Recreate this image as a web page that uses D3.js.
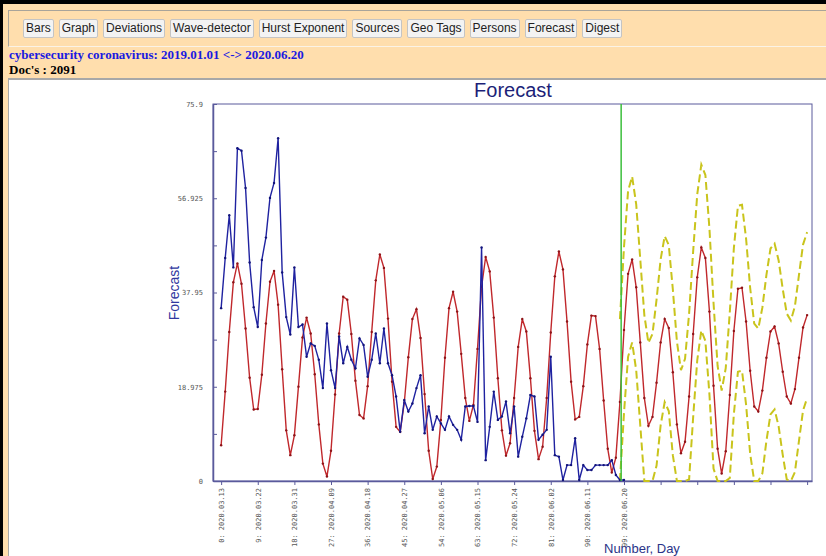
<!DOCTYPE html>
<html>
<head>
<meta charset="utf-8">
<script src="https://cdn.jsdelivr.net/npm/d3@7"></script>
<style>
    body { margin: 0; width: 826px; height: 556px; overflow: hidden; background: #FFDEAD; position: relative;
           font-family: Arial, "Liberation Sans", sans-serif; }
    .topbar { position: absolute; left: 0; top: 0; width: 826px; height: 4px; background: #000; }
    .leftbar { position: absolute; left: 0; top: 0; width: 3px; height: 556px; background: #000; }
    .menu { position: absolute; left: 8px; top: 10px; width: 830px; height: 35px;
            border-top: 1px solid #a9a49a; border-left: 1px solid #a9a49a; border-bottom: 1px solid #fbf3e6; }
    .buttons { position: absolute; left: 23px; top: 19px; display: flex; gap: 5px; }
    .buttons span { font-size: 12px; color: #222; background: #f3f3f3; border: 1px solid #c4c4c4;
                    padding: 1px 2px; line-height: 15px; border-radius: 2px; }
    .query { position: absolute; left: 9px; top: 47px; font: bold 13px "Liberation Serif", "Times New Roman", serif; color: #1a1ae0; }
    .docs { position: absolute; left: 9px; top: 62px; font: bold 13px "Liberation Serif", "Times New Roman", serif; color: #000; }
    .panel { position: absolute; left: 8px; top: 78px; width: 830px; height: 480px; background: #fff;
             border-top: 2px solid #a8a8a8; border-left: 1px solid #a8a8a8; }
    svg { position: absolute; left: 0; top: 0; }
</style>
</head>
<body>
<div class="topbar"></div>
<div class="leftbar"></div>
<div class="menu"></div>
<div class="buttons"></div>
<div class="query"></div>
<div class="docs"></div>
<div class="panel"></div>
<script>

// Data ////////////////////////////////////

const menuItems = ["Bars", "Graph", "Deviations", "Wave-detector", "Hurst Exponent", "Sources",
    "Geo Tags", "Persons", "Forecast", "Digest"];

const queryText = "cybersecurity coronavirus: 2019.01.01 <-> 2020.06.20";
const docsText = "Doc's : 2091";

// day number of the first point of each series
const actualStart = 0;
const modelStart = 0;
const bandStart = 98;
const forecastLine = 98.3;

// observed documents per day (blue)
const actual = [
    34.8, 44.9, 53.5, 43, 67, 66.5, 59, 44, 35, 31,
    44.5, 49, 57, 60, 69, 42, 33, 29.5, 43, 31,
    31.5, 25, 27.7, 27.2, 24.4, 18.7, 31.7, 22.3, 18.7, 29.1,
    23.7, 27, 24.4, 22.7, 28.7, 27.4, 21, 24.4, 29.7, 23.7,
    30.7, 23.7, 21.3, 17, 9.9, 16.3, 14, 15.6, 18.7, 21.3,
    9.6, 15, 10.3, 13, 11.6, 10.3, 13, 11.3, 10.3, 8.3,
    15, 15.1, 15.1, 11.9, 47, 4.2, 10.9, 18, 12.3, 13,
    16, 9.6, 15, 4.9, 8.9, 12.6, 17.3, 17, 8.3, 9.3,
    10.3, 25, 5.2, 4.9, 0.2, 3.2, 3.2, 8.6, 0.2, 3.2,
    2.2, 2.2, 3.2, 3.2, 3.2, 3.2, 4.2, 1.2, 0.2, 0.2
];

// fitted model and forecast (red)
const model = [
    7.2, 18, 30, 40, 43.8, 39.7, 30.7, 20.8, 14.4, 14.5,
    21.4, 31.7, 40.1, 42.3, 35.5, 22.5, 10.2, 5.2, 9.2, 19,
    28.9, 32.9, 29.7, 21.5, 11.4, 3.5, 0.9, 6.1, 17.4, 29.7,
    37.1, 36.5, 29.6, 20.2, 13.3, 12.6, 19.1, 30, 40.4, 45.6,
    42.9, 32.7, 20, 10.9, 9.9, 15.7, 24.9, 32.6, 34.6, 28.8,
    17.5, 6.1, 0.4, 2.9, 12.3, 24.8, 34.8, 38.1, 34.1, 25.6,
    16.7, 12.1, 15.3, 26.6, 39.1, 45.1, 42.2, 32.9, 20.7, 10.2,
    5.1, 7.6, 16.7, 27, 32.6, 30.1, 20.7, 10.1, 4.4, 6.9,
    16.7, 29.9, 41.2, 46.2, 42.6, 32.1, 20, 12.4, 12.9, 19.1,
    27.5, 33.3, 33.2, 26.6, 16.2, 6.5, 1.7, 4.7, 15.9, 30.4,
    41.7, 44.6, 39, 27.9, 16.7, 11.1, 12.9, 19.8, 27.9, 32.6,
    30.8, 21.9, 11.4, 5.6, 7.9, 17, 29.6, 41, 47, 44.9,
    34.1, 19.2, 6.5, 1.5, 6, 17.3, 30.2, 38.7, 38.9, 32.1,
    22.2, 15, 14, 18.2, 24.8, 30.1, 31.1, 27.7, 22, 17,
    15.6, 18.5, 24.8, 30.9, 33.4
];

// forecast bounds (yellow, dashed)
const upper = [
    32.6, 47.1, 58.4, 61.3, 55.7, 44.6, 33.4, 27.8, 29.6, 36.5,
    44.6, 49.3, 47.5, 38.6, 28.1, 22.3, 24.6, 33.7, 46.3, 57.7,
    63.7, 61.6, 50.8, 35.9, 23.2, 18.2, 22.7, 34, 46.9, 55.4,
    55.6, 48.8, 38.9, 31.7, 30.7, 34.9, 41.5, 46.8, 47.8, 44.4,
    38.7, 33.7, 32.3, 35.2, 41.5, 47.6, 50.1
];
const lower = [
    0, 13.7, 25, 27.9, 22.3, 11.2, 0, 0, 0, 3.1,
    11.2, 15.9, 14.1, 5.2, 0, 0, 0, 0.3, 12.9, 24.3,
    30.3, 28.2, 17.4, 2.5, 0, 0, 0, 0.6, 13.5, 22,
    22.2, 15.4, 5.5, 0, 0, 1.5, 8.1, 13.4, 14.4, 11,
    5.3, 0.3, 0, 1.8, 8.1, 14.2, 16.7
];

const xTicks = [0, 9, 18, 27, 36, 45, 54, 63, 72, 81, 90, 99, 108, 117, 126, 135, 144];
const xTickDates = ["2020.03.13", "2020.03.22", "2020.03.31", "2020.04.09", "2020.04.18", "2020.04.27",
    "2020.05.06", "2020.05.15", "2020.05.24", "2020.06.02", "2020.06.11", "2020.06.20"];

const yTicks = [0, 9.4875, 18.975, 28.4625, 37.95, 47.4375, 56.925, 66.4125, 75.9];
const yTickLabels = ["0", "", "18.975", "", "37.95", "", "56.925", "", "75.9"];

// Header ////////////////////////////////////

d3.select(".buttons").selectAll("span")
    .data(menuItems)
    .join("span")
    .text(d => d);

d3.select(".query").text(queryText);
d3.select(".docs").text(docsText);

// Chart ////////////////////////////////////

const svg = d3.select("body").append("svg")
    .attr("width", 826)
    .attr("height", 556);

const plot = { left: 213, right: 812, top: 104, bottom: 481 };

const x = d3.scaleLinear()
    .domain([-2, 145.2])
    .range([plot.left, plot.right]);

const y = d3.scaleLinear()
    .domain([0, 75.9])
    .range([plot.bottom, plot.top]);

const axisColor = "#5a5a9c";

// Title

svg.append("text")
    .attr("x", 513)
    .attr("y", 97)
    .attr("text-anchor", "middle")
    .attr("font-family", "Arial, 'Liberation Sans', sans-serif")
    .attr("font-size", 20)
    .attr("fill", "#1c1f78")
    .text("Forecast");

svg.append("text")
    .attr("transform", "translate(179, 293) rotate(-90)")
    .attr("text-anchor", "middle")
    .attr("font-family", "Arial, 'Liberation Sans', sans-serif")
    .attr("font-size", 14)
    .attr("fill", "#3038a0")
    .text("Forecast");

svg.append("text")
    .attr("x", 604)
    .attr("y", 553)
    .attr("font-family", "Arial, 'Liberation Sans', sans-serif")
    .attr("font-size", 13)
    .attr("fill", "#2a3488")
    .text("Number, Day");

// Frame

svg.append("rect")
    .attr("x", plot.left)
    .attr("y", plot.top)
    .attr("width", plot.right - plot.left)
    .attr("height", plot.bottom - plot.top)
    .attr("fill", "none")
    .attr("stroke", axisColor)
    .attr("stroke-width", 1);

// Axes

const xAxis = svg.append("g")
    .attr("transform", `translate(0, ${ plot.bottom })`)
    .call(d3.axisBottom(x)
        .tickValues(xTicks)
        .tickSize(4)
        .tickSizeOuter(0)
        .tickFormat((d, i) => i < xTickDates.length ? `${ d }: ${ xTickDates[i] }` : ""));

xAxis.select(".domain").attr("stroke", axisColor).attr("stroke-width", 1.5);
xAxis.selectAll(".tick line").attr("stroke", axisColor);
xAxis.selectAll(".tick text")
    .attr("transform", "rotate(-90)")
    .attr("text-anchor", "end")
    .attr("x", -7)
    .attr("y", 0)
    .attr("dy", "0.32em")
    .attr("font-family", "'DejaVu Sans Mono', monospace")
    .attr("font-size", 7)
    .attr("fill", "#555");

const yAxis = svg.append("g")
    .attr("transform", `translate(${ plot.left }, 0)`)
    .call(d3.axisLeft(y)
        .tickValues(yTicks)
        .tickSize(-4)
        .tickSizeOuter(0)
        .tickPadding(10)
        .tickFormat((d, i) => yTickLabels[i]));

yAxis.select(".domain").attr("stroke", axisColor).attr("stroke-width", 1.5);
yAxis.selectAll(".tick line").attr("stroke", axisColor);
yAxis.selectAll(".tick text")
    .attr("font-family", "'DejaVu Sans Mono', monospace")
    .attr("font-size", 7)
    .attr("fill", "#555");

// Series

const toPoints = (values, start) => values.map((v, i) => ({ day: start + i, v: v }));

const line = d3.line()
    .x(d => x(d.day))
    .y(d => y(d.v));

function drawSeries(points, color, dotColor, dash) {

    const g = svg.append("g");

    g.append("path")
        .datum(points)
        .attr("fill", "none")
        .attr("stroke", color)
        .attr("stroke-width", dash ? 2 : 1.4)
        .attr("stroke-dasharray", dash)
        .attr("d", line);

    if (dotColor) {
        g.selectAll("circle")
            .data(points)
            .join("circle")
            .attr("cx", d => x(d.day))
            .attr("cy", d => y(d.v))
            .attr("r", 1.2)
            .attr("fill", dotColor);
    }
}

drawSeries(toPoints(upper, bandStart), "#c9c41c", null, "8,4");
drawSeries(toPoints(lower, bandStart), "#c9c41c", null, "8,4");
drawSeries(toPoints(model, modelStart), "#c0282c", "#8e1418", null);
drawSeries(toPoints(actual, actualStart), "#1f22a0", "#12147a", null);

// Forecast start

svg.append("line")
    .attr("x1", x(forecastLine))
    .attr("x2", x(forecastLine))
    .attr("y1", plot.top)
    .attr("y2", plot.bottom)
    .attr("stroke", "#3cbf3c")
    .attr("stroke-width", 1.5);

</script>
</body>
</html>
